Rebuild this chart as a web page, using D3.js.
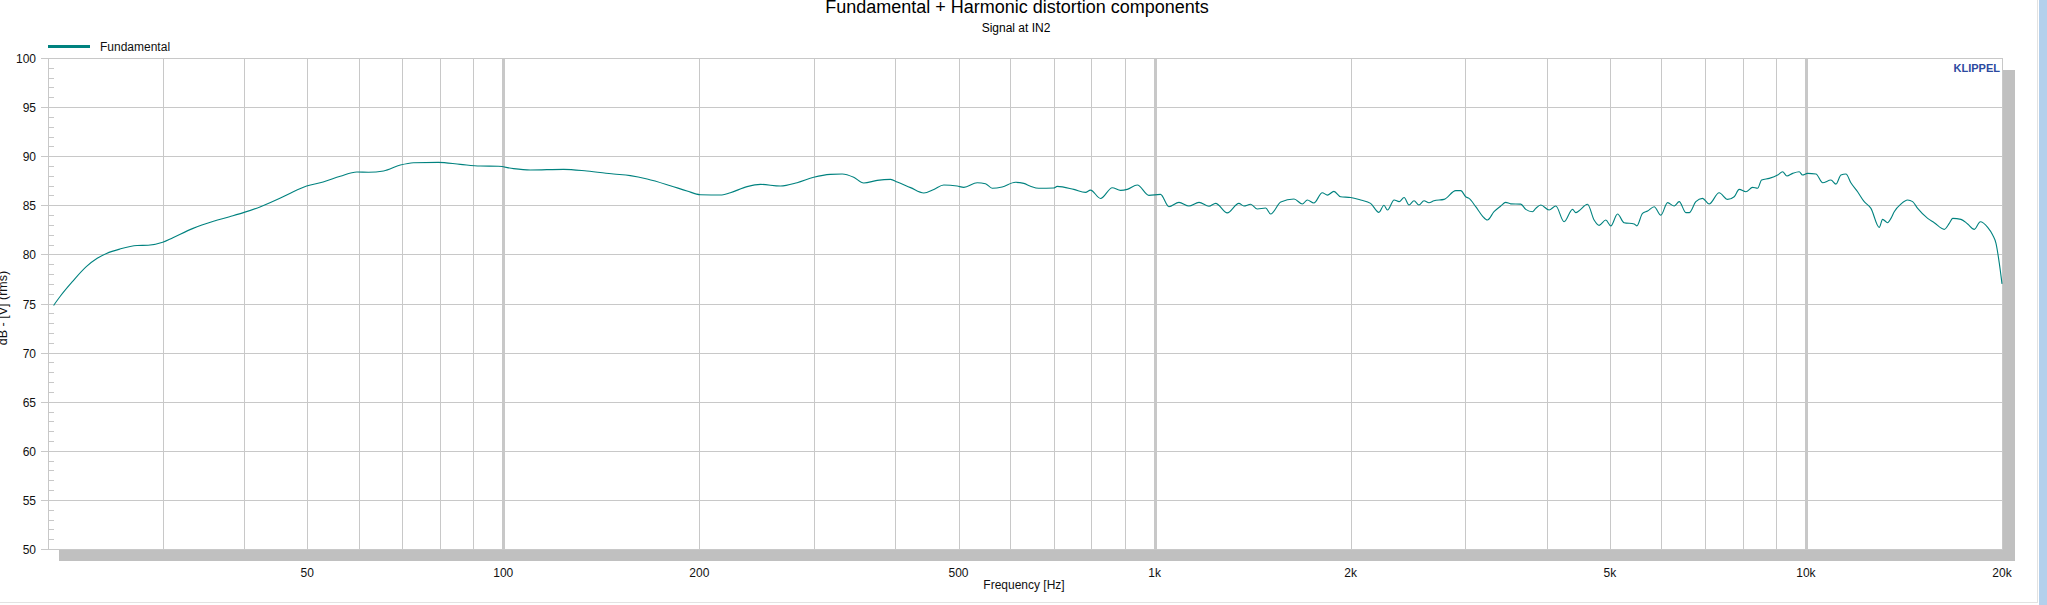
<!DOCTYPE html>
<html>
<head>
<meta charset="utf-8">
<script src="https://cdn.jsdelivr.net/npm/d3@7"></script>
<style>
  body { margin: 0; background: #fff; }
  svg { display: block; font-family: "Liberation Sans", Arial, sans-serif; }
</style>
</head>
<body>
<div id="chart"></div>
<script>
// frequency response (Hz, dB)
var freqs = [20.4, 20.9, 21.8, 22.9, 23.8, 24.6, 25.8, 27.4, 28.5, 30, 31.1, 33.4, 35.9, 38, 40, 42.4, 45.4, 47.6, 49.9,
  52.9, 56.2, 59.6, 62.1, 65.5, 69.5, 72.8, 79.5, 85.9, 92.2, 98.3, 103.7, 110, 123.8, 134.4, 147.7, 156.7, 166.3,
  180.5, 191.5, 200.7, 216.6, 223.2, 236.8, 248.2, 266.4, 282.6, 299.7, 317.8, 331.4, 345.2, 357.6, 375, 393.2,
  402.6, 422, 442.2, 458.2, 474.6, 497.6, 509.4, 534.2, 550, 563.2, 583.4, 611.4, 629.8, 644.8, 664, 700, 708.8,
  751.6, 783.4, 797.2, 826, 861, 886.6, 908, 940.8, 980, 1021, 1052, 1090, 1129, 1170, 1212, 1241, 1293, 1347,
  1371, 1404, 1438, 1481, 1507, 1562, 1637, 1686, 1716, 1756, 1809, 1842, 1885, 1930, 2000, 2072, 2146, 2210,
  2250, 2278, 2332, 2374, 2416, 2458, 2502, 2546, 2592, 2638, 2685, 2782, 2900, 2952, 3004, 3039, 3112, 3187,
  3243, 3320, 3400, 3460, 3522, 3649, 3714, 3803, 3848, 3917, 4033, 4130, 4253, 4382, 4433, 4485, 4620, 4729,
  4814, 4929, 5017, 5137, 5258, 5448, 5500, 5612, 5713, 5848, 5988, 6132, 6276, 6389, 6542, 6620, 6776, 6938,
  7102, 7358, 7580, 7760, 7898, 8088, 8282, 8429, 8550, 8784, 9048, 9208, 9350, 9540, 9764, 9880, 10058, 10360,
  10608, 10924, 11120, 11318, 11520, 11722, 12004, 12288, 12584, 12958, 13114, 13348, 13506, 13664, 13992, 14326,
  14582, 14844, 15378, 15740, 16308, 16600, 16800, 17298, 17714, 18136, 18524, 19014, 19352, 19580, 19812, 20000];
var fundamental = [74.8, 75.76, 77.22, 78.75, 79.6, 80.1, 80.55, 80.9, 80.93, 81.23, 81.7, 82.65, 83.37, 83.84, 84.28,
  84.86, 85.71, 86.39, 86.96, 87.37, 87.95, 88.39, 88.36, 88.49, 89.1, 89.34, 89.37, 89.17, 89.0, 88.97, 88.73,
  88.6, 88.66, 88.49, 88.19, 88.02, 87.68, 87.0, 86.46, 86.08, 86.05, 86.28, 86.9, 87.13, 86.96, 87.3, 87.85,
  88.15, 88.19, 87.85, 87.27, 87.54, 87.64, 87.37, 86.8, 86.25, 86.62, 87.07, 86.96, 86.83, 87.3, 87.2, 86.73,
  86.86, 87.34, 87.23, 86.95, 86.73, 86.76, 86.93, 86.62, 86.32, 86.55, 85.7, 86.79, 86.52, 86.62, 87.07, 86.01,
  86.11, 84.86, 85.3, 84.93, 85.3, 84.9, 85.2, 84.23, 85.2, 84.93, 85.1, 84.62, 84.72, 84.11, 85.33, 85.64, 85.13,
  85.54, 85.23, 86.28, 86.04, 86.42, 85.87, 85.8, 85.54, 85.2, 84.28, 85.0, 84.52, 85.54, 85.37, 85.8, 85.03,
  85.47, 85.03, 85.47, 85.26, 85.47, 85.6, 86.49, 86.49, 85.87, 85.7, 84.86, 83.91, 83.5, 84.35, 84.93, 85.3,
  85.15, 85.12, 84.59, 84.35, 84.69, 85.03, 84.52, 84.93, 83.33, 84.59, 84.25, 84.45, 85.1, 83.5, 82.96, 83.5,
  82.9, 84.11, 83.23, 83.1, 82.9, 84.18, 84.42, 84.86, 84.0, 85.27, 84.93, 85.37, 84.25, 84.25, 85.37, 85.71,
  85.13, 86.28, 85.6, 85.87, 86.62, 86.38, 86.83, 86.73, 87.57, 87.74, 88.08, 88.42, 87.98, 88.25, 88.42, 88.08,
  88.25, 88.19, 87.3, 87.57, 87.16, 88.08, 88.19, 87.3, 86.38, 85.37, 84.69, 82.75, 83.57, 83.23, 83.67, 84.35,
  85.13, 85.54, 85.37, 84.69, 83.67, 83.23, 82.55, 83.16, 83.67, 83.57, 83.1, 82.55, 83.33, 82.75, 81.97, 81.12,
  79.08, 77.0];

var xTickValues = [50, 100, 200, 500, 1000, 2000, 5000, 10000, 20000];
var xTickLabels = ["50", "100", "200", "500", "1k", "2k", "5k", "10k", "20k"];

var width = 2047, height = 605;
var plotLeft = 48, plotRight = 2002, plotTop = 58, plotBottom = 549;
var gridColor = "#c8c8c8", lineColor = "#00827f";

var svg = d3.select("#chart").append("svg")
  .attr("width", width)
  .attr("height", height);

var x = d3.scaleLog().domain([20, 20000]).range([plotLeft, plotRight]);
var y = d3.scaleLinear().domain([50, 100]).range([plotBottom, plotTop]);

// vertical grid, decades drawn thicker
x.ticks().filter(function(f) { return f > 20 && f < 20000; }).forEach(function(f) {
  var decade = Math.abs(Math.log10(f) - Math.round(Math.log10(f))) < 1e-9;
  svg.append("line")
    .attr("x1", Math.round(x(f)) + 0.5).attr("x2", Math.round(x(f)) + 0.5)
    .attr("y1", plotTop).attr("y2", plotBottom)
    .attr("stroke", gridColor)
    .attr("stroke-width", decade ? 3 : 1);
});

// horizontal grid + major ticks
y.ticks(10).forEach(function(v) {
  var yy = Math.round(y(v)) + 0.5;
  svg.append("line")
    .attr("x1", plotLeft - 7).attr("x2", plotRight)
    .attr("y1", yy).attr("y2", yy)
    .attr("stroke", gridColor);
  svg.append("text")
    .attr("x", 36).attr("y", yy + 4.5)
    .attr("text-anchor", "end")
    .attr("font-size", 12)
    .attr("fill", "#111")
    .text(v);
});

// minor ticks every dB
d3.range(50, 101, 1).filter(function(v) { return v % 5 != 0; }).forEach(function(v) {
  var yy = Math.round(y(v)) + 0.5;
  svg.append("line")
    .attr("x1", plotLeft).attr("x2", plotLeft + 6)
    .attr("y1", yy).attr("y2", yy)
    .attr("stroke", gridColor);
});

// axis line and right border
svg.append("line")
  .attr("x1", plotLeft + 0.5).attr("x2", plotLeft + 0.5)
  .attr("y1", plotTop).attr("y2", plotBottom + 1)
  .attr("stroke", gridColor);
svg.append("line")
  .attr("x1", plotRight + 0.5).attr("x2", plotRight + 0.5)
  .attr("y1", plotTop).attr("y2", plotBottom + 1)
  .attr("stroke", gridColor);

// drop shadow of the plot frame
svg.append("rect")
  .attr("x", plotRight + 1).attr("y", 70)
  .attr("width", 12).attr("height", plotBottom + 12 - 70)
  .attr("fill", "#c0c0c0");
svg.append("rect")
  .attr("x", 59).attr("y", plotBottom + 1)
  .attr("width", plotRight + 13 - 59).attr("height", 11)
  .attr("fill", "#c0c0c0");

// x labels
xTickValues.forEach(function(f, i) {
  svg.append("text")
    .attr("x", x(f)).attr("y", 577)
    .attr("text-anchor", "middle")
    .attr("font-size", 12)
    .attr("fill", "#111")
    .text(xTickLabels[i]);
});

svg.append("text")
  .attr("x", 1024).attr("y", 589)
  .attr("text-anchor", "middle")
  .attr("font-size", 12)
  .attr("fill", "#111")
  .text("Frequency [Hz]");

// y title sits half outside the page, as in the original
svg.append("text")
  .attr("transform", "translate(7,308) rotate(-90)")
  .attr("text-anchor", "middle")
  .attr("font-size", 12.5)
  .attr("fill", "#111")
  .text("dB - [V] (rms)");

// titles
svg.append("text")
  .attr("x", 1017).attr("y", 13)
  .attr("text-anchor", "middle")
  .attr("font-size", 18)
  .attr("fill", "#000")
  .text("Fundamental + Harmonic distortion components");
svg.append("text")
  .attr("x", 1016).attr("y", 32)
  .attr("text-anchor", "middle")
  .attr("font-size", 12)
  .attr("fill", "#000")
  .text("Signal at IN2");

svg.append("text")
  .attr("x", 2000).attr("y", 72)
  .attr("text-anchor", "end")
  .attr("font-size", 11)
  .attr("font-weight", "bold")
  .attr("fill", "#2b4aa0")
  .text("KLIPPEL");

// legend
svg.append("line")
  .attr("x1", 48).attr("x2", 90)
  .attr("y1", 46.5).attr("y2", 46.5)
  .attr("stroke", lineColor)
  .attr("stroke-width", 3);
svg.append("text")
  .attr("x", 100).attr("y", 51)
  .attr("font-size", 12)
  .attr("fill", "#111")
  .text("Fundamental");

// the curve
var line = d3.line()
  .x(function(d, i) { return x(freqs[i]); })
  .y(function(d) { return y(d); })
  .curve(d3.curveMonotoneX);

svg.append("path")
  .datum(fundamental)
  .attr("d", line)
  .attr("fill", "none")
  .attr("stroke", lineColor)
  .attr("stroke-width", 1.1);

// window frame bits on the right and bottom
svg.append("line")
  .attr("x1", 0).attr("x2", 2038)
  .attr("y1", 602.5).attr("y2", 602.5)
  .attr("stroke", "#e2e2e2");
svg.append("line")
  .attr("x1", 2037.5).attr("x2", 2037.5)
  .attr("y1", 0).attr("y2", 603)
  .attr("stroke", "#e2e2e2");
svg.append("rect")
  .attr("x", 2039).attr("y", 0)
  .attr("width", 8).attr("height", height)
  .attr("fill", "#b4d0ec");
</script>
</body>
</html>
